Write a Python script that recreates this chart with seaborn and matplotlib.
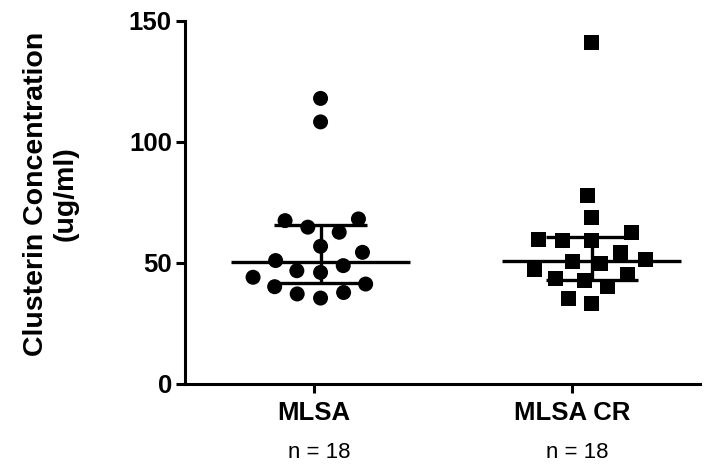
import matplotlib
matplotlib.use("Agg")
import matplotlib.pyplot as plt
import matplotlib.transforms as mtransforms
import numpy as np
import pandas as pd
import seaborn as sns

# ---- data ----
groups = ["MLSA", "MLSA CR"]
mlsa = [118.0, 108.3, 68.2, 67.5, 64.8, 62.7, 56.9, 54.4, 51.0, 48.9,
        46.8, 46.1, 44.1, 41.3, 40.2, 37.8, 37.2, 35.5]
mlsa_cr = [141.0, 77.9, 68.7, 62.7, 59.5, 59.3, 59.3, 54.4, 51.3, 50.7,
           49.6, 47.5, 45.2, 43.4, 42.7, 40.3, 35.5, 33.3]
medians = [50.2, 51.0]
q1 = [41.7, 43.0]
q3 = [65.5, 60.6]
n_labels = ["n = 18", "n = 18"]
yticks = [0, 50, 100, 150]

df = pd.DataFrame({
    "group": [groups[0]] * len(mlsa) + [groups[1]] * len(mlsa_cr),
    "value": mlsa + mlsa_cr,
})

sns.set_theme(style="ticks")
plt.rcParams["font.family"] = ["Liberation Sans", "DejaVu Sans"]
plt.rcParams["text.color"] = "black"
plt.rcParams["axes.labelcolor"] = "black"
plt.rcParams["xtick.color"] = "black"
plt.rcParams["ytick.color"] = "black"
plt.rcParams["xtick.labelcolor"] = "black"
plt.rcParams["ytick.labelcolor"] = "black"

fig = plt.figure(figsize=(7.18, 4.66), dpi=100)
ax = fig.add_axes([0.2577, 0.176, 0.975 - 0.2577, 0.955 - 0.176])

markers = ["o", "s"]
for g, m in zip(groups, markers):
    sns.swarmplot(data=df[df["group"] == g], x="group", y="value", order=groups,
                  marker=m, size=10.8, color="black", linewidth=5.5,
                  edgecolor="none", ax=ax, zorder=3)

# median and interquartile range
for i in range(len(groups)):
    ax.hlines(medians[i], i - 0.33, i + 0.33, color="black", lw=2.4, zorder=4)
    ax.hlines([q1[i], q3[i]], i - 0.17, i + 0.17, color="black", lw=2.4, zorder=4)
    ax.vlines(i, q1[i], q3[i], color="black", lw=2.4, zorder=4)

ax.set_ylim(0, 150)
ax.set_xlim(-0.5, 1.4)
ax.set_yticks(yticks)
tick_pos = [-0.026, 0.927]
ax.set_xticks(tick_pos)
ax.set_xticklabels(groups, fontsize=18.5, fontweight="bold", color="black")
ax.set_yticklabels([str(t) for t in yticks], fontsize=18.5, fontweight="bold",
                   color="black")
ax.set_xlabel("")
ax.set_ylabel("")

for side in ["top", "right"]:
    ax.spines[side].set_visible(False)
for side in ["left", "bottom"]:
    ax.spines[side].set_linewidth(2.2)
    ax.spines[side].set_color("black")
ax.tick_params(axis="both", which="major", length=6.5, width=2.2, color="black")
ax.tick_params(axis="x", pad=6)
ax.tick_params(axis="y", pad=3)

trans = mtransforms.blended_transform_factory(ax.transData, fig.transFigure)
for xp, lab in zip(tick_pos, n_labels):
    ax.text(xp + 0.02, 1 - 453 / 466, lab, transform=trans, ha="center",
            va="center", fontsize=16, color="black")

fig.text(51 / 718, 1 - 194 / 466, "Clusterin Concentration\n(ug/ml)",
         rotation=90, ha="center", va="center", fontsize=20.5,
         fontweight="bold", multialignment="center", linespacing=1.15,
         color="black")

fig.savefig("out.png", dpi=100)
